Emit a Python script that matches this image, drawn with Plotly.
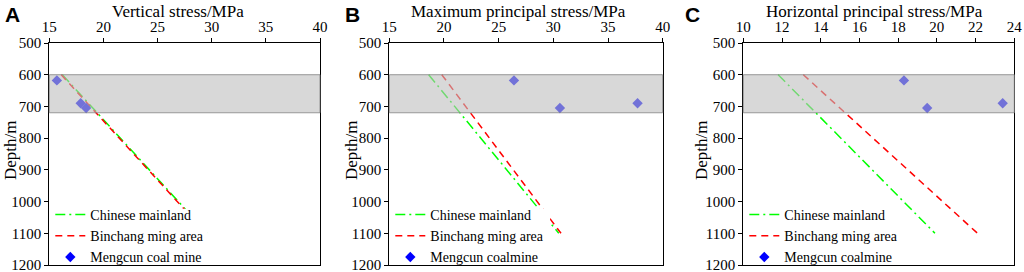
import plotly.graph_objects as go

# ---------------- data ----------------
line_depth = [600, 1100]          # depth (m) of the two regression-line ends
band_depth = [600, 720]           # shaded coal-seam depth band
point_depth = [618, 705, 690]     # measured points depth (m)

A_chinese = [16.2, 29.6]
A_binchang = [16.1, 29.5]
A_points = [15.7, 18.4, 17.9]

B_chinese = [18.6, 30.5]
B_binchang = [19.8, 30.7]
B_points = [26.4, 30.6, 37.7]

C_chinese = [11.8, 19.9]
C_binchang = [13.1, 22.1]
C_points = [18.3, 19.5, 23.4]

panel_titles = ["Vertical stress/MPa", "Maximum principal stress/MPa",
                "Horizontal principal stress/MPa"]
panel_letters = ["A", "B", "C"]
x_ranges = [[15, 40], [15, 40], [10, 24]]
x_dticks = [5, 5, 2]
point_names = ["Mengcun coal mine", "Mengcun coalmine", "Mengcun coalmine"]
line_names = ["Chinese mainland", "Binchang ming area"]
y_ticks = [500, 600, 700, 800, 900, 1000, 1100, 1200]
y_title = "Depth/m"

panels = [(A_chinese, A_binchang, A_points),
          (B_chinese, B_binchang, B_points),
          (C_chinese, C_binchang, C_points)]

# ---------------- layout geometry ----------------
W, H = 1024, 272
x_px = [(49.3, 320.0), (389.3, 662.7), (743.3, 1014.3)]
y_dom = [7 / H, 229 / H]
letter_px = [3, 343, 683]
xtitle_px = [178, 518, 874]
ytitle_px = [10, 351, 701]
legend_box_right = [0.586, 0.588, 0.593]   # white legend background (x-domain fraction)
legend_box_top = 1023                       # legend background top (depth units)

SERIF = "Times New Roman, Liberation Serif, serif"
fig = go.Figure()
layout = dict(
    width=W, height=H, margin=dict(l=0, r=0, t=0, b=0, autoexpand=False),
    paper_bgcolor="white", plot_bgcolor="white", showlegend=True,
    font=dict(family=SERIF, color="black"),
)
shapes, annotations = [], []

for i, (cn, bc, pts) in enumerate(panels):
    n = "" if i == 0 else str(i + 1)
    xa, ya = "x" + n, "y" + n
    leg = "legend" + n
    fig.add_trace(go.Scatter(
        x=cn, y=line_depth, mode="lines", name=line_names[0],
        line=dict(color="#00ff00", width=1.5, dash="10px,4px,2px,4px"),
        xaxis=xa, yaxis=ya, legend=leg))
    fig.add_trace(go.Scatter(
        x=bc, y=line_depth, mode="lines", name=line_names[1],
        line=dict(color="#ff0000", width=1.5, dash="7px,5px"),
        xaxis=xa, yaxis=ya, legend=leg))
    fig.add_trace(go.Scatter(
        x=pts, y=point_depth, mode="markers", name=point_names[i],
        marker=dict(symbol="diamond", color="#0000ff", size=8),
        xaxis=xa, yaxis=ya, showlegend=False))
    # legend entry for the points (full colour, as in the reference key)
    fig.add_trace(go.Scatter(
        x=[None], y=[None], mode="markers", name=point_names[i],
        marker=dict(symbol="diamond", color="#0000ff", size=8),
        xaxis=xa, yaxis=ya, legend=leg))

    x0, x1 = x_px[i]
    layout["xaxis" + n] = dict(
        domain=[x0 / W, x1 / W], range=x_ranges[i], dtick=x_dticks[i],
        side="top", anchor=ya, ticks="outside", ticklen=4, tickcolor="black",
        showline=True, linecolor="black", linewidth=1, mirror=True,
        showgrid=False, zeroline=False, automargin=False,
        ticklabeloverflow="allow",
        tickfont=dict(family=SERIF, size=15, color="black"),
    )
    layout["yaxis" + n] = dict(
        domain=y_dom, range=[1200, 500], tickvals=y_ticks, anchor=xa,
        ticks="outside", ticklen=4, tickcolor="black",
        showline=True, linecolor="black", linewidth=1, mirror=True,
        showgrid=False, zeroline=False, automargin=False,
        ticklabeloverflow="allow",
        tickfont=dict(family=SERIF, size=15, color="black"),
    )
    layout[leg] = dict(
        x=(x0 + 1) / W, y=-1 / H, xanchor="left", yanchor="bottom",
        bgcolor="rgba(0,0,0,0)", borderwidth=0, tracegroupgap=0, itemwidth=30,
        font=dict(family=SERIF, size=14, color="black"),
    )
    shapes.append(dict(
        type="rect", xref=xa + " domain", yref=ya, x0=0, x1=1,
        y0=band_depth[0], y1=band_depth[1],
        fillcolor="rgba(190,190,190,0.6)",
        line=dict(color="rgba(130,130,130,0.8)", width=1), layer="above"))
    shapes.append(dict(
        type="rect", xref=xa + " domain", yref=ya, x0=0.004,
        x1=legend_box_right[i], y0=legend_box_top, y1=1197,
        fillcolor="white", line=dict(width=0), layer="above"))
    annotations.append(dict(
        text="<b>" + panel_letters[i] + "</b>", xref="paper", yref="paper",
        x=letter_px[i] / W, y=1 - 1 / H, xanchor="left", yanchor="top",
        showarrow=False, font=dict(family="Liberation Sans", size=21,
                                   color="black")))
    annotations.append(dict(
        text=panel_titles[i], xref="paper", yref="paper",
        x=xtitle_px[i] / W, y=1 - 12 / H, xanchor="center", yanchor="middle",
        showarrow=False, font=dict(family=SERIF, size=17, color="black")))
    annotations.append(dict(
        text=y_title, xref="paper", yref="paper", textangle=-90,
        x=ytitle_px[i] / W, y=1 - 150 / H, xanchor="center", yanchor="middle",
        showarrow=False, font=dict(family=SERIF, size=17, color="black")))

layout["shapes"] = shapes
layout["annotations"] = annotations
fig.update_layout(**layout)
fig.write_html("out.html", config={"displayModeBar": False},
               post_script="document.body.style.margin='0';")
